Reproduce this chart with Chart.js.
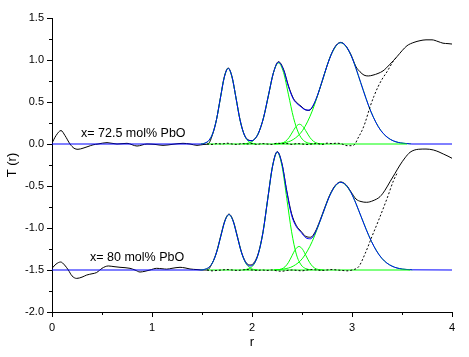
<!DOCTYPE html>
<html>
<head>
<meta charset="utf-8">
<script src="https://cdn.jsdelivr.net/npm/chart.js@4/dist/chart.umd.min.js"></script>
<style>
html,body{margin:0;padding:0;background:#fff;}
canvas{display:block;}
</style>
</head>
<body>
<canvas id="c" width="469" height="357"></canvas>
<script>
// ---------- x = 72.5 mol% PbO (baseline 0) ----------
const upDataR = [0,0.04,0.09,0.13,0.18,0.22,0.26,0.31,0.36,0.41,0.46,0.55,0.65,0.75,0.85,0.95,1.03,1.11,1.21,1.31,1.38,1.45,1.52,1.56,1.61,1.645,1.684,1.723,1.762,1.80,1.84,1.88,1.92,1.96,2.00,2.035,2.065,2.115,2.165,2.215,2.265,2.315,2.365,2.415,2.45,2.49,2.53,2.57,2.61,2.65,2.70,2.75,2.80,2.845,2.887,2.93,2.987,3.04,3.08,3.12,3.163,3.21,3.26,3.31,3.38,3.45,3.50,3.55,3.62,3.68,3.74,3.80,3.86,3.91,3.96,4.0];
const upDataT = [0.01,0.10,0.16,0.10,0.00,-0.05,-0.063,-0.05,-0.03,-0.01,0.00,0.016,0.00,0.008,-0.024,0.00,-0.005,-0.016,-0.003,0.008,0.0,-0.016,-0.005,0.0,0.13,0.29,0.55,0.80,0.905,0.80,0.55,0.29,0.12,0.05,0.04,0.07,0.13,0.31,0.58,0.85,0.98,0.89,0.69,0.54,0.49,0.45,0.41,0.40,0.45,0.56,0.74,0.93,1.09,1.18,1.21,1.18,1.07,0.92,0.86,0.82,0.81,0.82,0.84,0.87,0.95,1.04,1.11,1.17,1.21,1.23,1.24,1.24,1.22,1.20,1.195,1.19];
const upFitR = [0,1.50,1.53,1.57,1.61,1.645,1.684,1.723,1.762,1.80,1.84,1.88,1.92,1.96,2.00,2.035,2.065,2.115,2.165,2.215,2.265,2.315,2.365,2.415,2.45,2.49,2.53,2.57,2.61,2.65,2.70,2.75,2.80,2.845,2.887,2.93,2.987,3.04,3.087,3.14,3.187,3.24,3.287,3.34,3.387,3.44,3.487,3.55,3.60,4.0];
const upFitT = [0,0,0.011,0.044,0.135,0.292,0.546,0.794,0.900,0.799,0.546,0.287,0.118,0.045,0.038,0.071,0.131,0.313,0.585,0.852,0.974,0.882,0.681,0.531,0.481,0.443,0.408,0.403,0.457,0.564,0.744,0.930,1.086,1.177,1.206,1.178,1.064,0.900,0.731,0.542,0.392,0.254,0.163,0.093,0.053,0.026,0.013,0.005,0,0];
const upG1R = [1.489,1.528,1.567,1.606,1.645,1.684,1.723,1.762,1.801,1.840,1.879,1.918,1.957,1.996,2.035];
const upG1T = [0.002,0.010,0.040,0.122,0.292,0.546,0.794,0.900,0.794,0.546,0.292,0.122,0.040,0.010,0.002];
const upG2R = [1.915,1.965,2.015,2.065,2.115,2.165,2.215,2.265,2.315,2.365,2.415,2.465,2.515,2.565,2.615];
const upG2T = [0.002,0.011,0.042,0.131,0.313,0.585,0.852,0.965,0.852,0.585,0.313,0.131,0.042,0.011,0.002];
const upG3R = [2.23,2.265,2.30,2.335,2.37,2.405,2.44,2.475,2.51,2.545,2.58,2.615,2.65,2.685,2.72];
const upG3T = [0.0005,0.003,0.010,0.032,0.076,0.143,0.207,0.235,0.207,0.143,0.076,0.032,0.010,0.003,0.0005];
const upG4R = [2.222,2.317,2.412,2.507,2.602,2.697,2.792,2.887,2.987,3.087,3.187,3.287,3.387,3.487,3.587];
const upG4T = [0.003,0.013,0.053,0.163,0.392,0.731,1.064,1.206,1.064,0.731,0.392,0.163,0.053,0.013,0.003];
const upResR = [1.55,1.60,1.65,1.70,1.75,1.80,1.85,1.90,1.95,2.00,2.05,2.10,2.15,2.20,2.25,2.30,2.35,2.40,2.45,2.50,2.55,2.60,2.65,2.70,2.75,2.80,2.85,2.90,2.95,3.00,3.03,3.06,3.10,3.13,3.18,3.22,3.26,3.30,3.35,3.41,3.45];
const upResT = [0,-0.005,0.005,0,0.01,0,-0.005,0.005,0,0.005,-0.005,0.005,0,-0.005,0.01,0.005,0.005,-0.005,0.005,0,-0.005,0,0.005,-0.005,0.01,0.005,0.01,0,-0.02,-0.02,0.0,0.07,0.16,0.25,0.44,0.57,0.68,0.77,0.86,0.98,1.04];
const upBaseR = [1.55,3.55];
const upBaseT = [0,0];

// ---------- x = 80 mol% PbO (baseline -1.5) ----------
const loDataR = [0,0.04,0.087,0.125,0.163,0.20,0.247,0.30,0.347,0.40,0.447,0.50,0.563,0.62,0.68,0.78,0.83,0.88,0.93,0.98,1.047,1.10,1.147,1.20,1.28,1.33,1.38,1.45,1.51,1.55,1.606,1.647,1.688,1.729,1.77,1.811,1.852,1.893,1.934,1.975,2.016,2.063,2.111,2.158,2.206,2.253,2.30,2.348,2.396,2.443,2.491,2.538,2.586,2.63,2.68,2.73,2.78,2.835,2.887,2.94,2.99,3.04,3.09,3.147,3.21,3.28,3.33,3.38,3.43,3.48,3.53,3.58,3.663,3.74,3.813,3.87,3.913,3.96,4.0];
const loDataT = [-1.48,-1.43,-1.405,-1.44,-1.50,-1.57,-1.60,-1.585,-1.56,-1.545,-1.53,-1.48,-1.452,-1.46,-1.468,-1.48,-1.50,-1.524,-1.515,-1.50,-1.48,-1.485,-1.49,-1.48,-1.468,-1.475,-1.488,-1.495,-1.50,-1.50,-1.41,-1.28,-1.09,-0.91,-0.835,-0.91,-1.09,-1.28,-1.40,-1.44,-1.42,-1.30,-1.04,-0.645,-0.258,-0.09,-0.235,-0.56,-0.83,-0.97,-1.04,-1.10,-1.11,-1.05,-0.91,-0.75,-0.60,-0.49,-0.452,-0.485,-0.57,-0.655,-0.685,-0.694,-0.675,-0.627,-0.55,-0.449,-0.35,-0.25,-0.165,-0.099,-0.063,-0.06,-0.071,-0.095,-0.119,-0.145,-0.17];
const loFitR = [0,1.50,1.524,1.565,1.606,1.647,1.688,1.729,1.77,1.811,1.852,1.893,1.934,1.975,2.016,2.063,2.111,2.158,2.206,2.253,2.300,2.348,2.396,2.443,2.491,2.538,2.586,2.63,2.68,2.73,2.78,2.835,2.887,2.94,2.99,3.04,3.092,3.14,3.195,3.245,3.297,3.35,3.40,3.45,3.502,3.55,3.605,4.0];
const loFitT = [-1.5,-1.5,-1.493,-1.471,-1.411,-1.286,-1.100,-0.918,-0.84,-0.918,-1.100,-1.285,-1.406,-1.452,-1.432,-1.31,-1.045,-0.651,-0.264,-0.094,-0.24,-0.571,-0.848,-0.983,-1.052,-1.116,-1.128,-1.061,-0.92,-0.758,-0.609,-0.495,-0.456,-0.49,-0.579,-0.71,-0.867,-1.013,-1.161,-1.273,-1.359,-1.419,-1.454,-1.476,-1.489,-1.494,-1.498,-1.5];
const loG1R = [1.483,1.524,1.565,1.606,1.647,1.688,1.729,1.77,1.811,1.852,1.893,1.934,1.975,2.016,2.057];
const loG1T = [-1.4985,-1.493,-1.471,-1.411,-1.286,-1.100,-0.918,-0.84,-0.918,-1.100,-1.286,-1.411,-1.471,-1.493,-1.4985];
const loG2R = [1.921,1.968,2.016,2.063,2.111,2.158,2.206,2.253,2.300,2.348,2.396,2.443,2.491,2.538,2.586];
const loG2T = [-1.497,-1.484,-1.439,-1.311,-1.045,-0.651,-0.264,-0.10,-0.264,-0.651,-1.045,-1.311,-1.439,-1.484,-1.497];
const loG3R = [2.225,2.26,2.295,2.33,2.365,2.40,2.435,2.47,2.505,2.54,2.575,2.61,2.645,2.68,2.715];
const loG3T = [-1.4994,-1.497,-1.488,-1.462,-1.409,-1.330,-1.253,-1.22,-1.253,-1.330,-1.409,-1.462,-1.488,-1.497,-1.4994];
const loG4R = [2.222,2.317,2.412,2.507,2.602,2.697,2.792,2.887,2.990,3.092,3.195,3.297,3.40,3.502,3.605];
const loG4T = [-1.498,-1.4885,-1.454,-1.359,-1.161,-0.867,-0.579,-0.456,-0.579,-0.867,-1.161,-1.359,-1.454,-1.4885,-1.498];
const loResR = [1.55,1.60,1.65,1.70,1.75,1.80,1.85,1.90,1.95,2.00,2.05,2.10,2.15,2.20,2.25,2.30,2.35,2.40,2.45,2.50,2.55,2.60,2.65,2.70,2.75,2.80,2.85,2.90,2.95,3.00,3.067,3.133,3.20,3.267,3.35,3.417,3.45];
const loResT = [-1.5,-1.51,-1.505,-1.50,-1.495,-1.50,-1.505,-1.50,-1.495,-1.50,-1.505,-1.50,-1.505,-1.50,-1.51,-1.515,-1.505,-1.50,-1.505,-1.51,-1.50,-1.495,-1.50,-1.505,-1.50,-1.495,-1.50,-1.505,-1.51,-1.50,-1.46,-1.30,-1.10,-0.905,-0.65,-0.43,-0.35];
const loBaseR = [1.55,3.58];
const loBaseT = [-1.5,-1.5];

// ---------- axes / labels ----------
const xTicks = [0,1,2,3,4];
const yTicks = [1.5,1.0,0.5,0.0,-0.5,-1.0,-1.5,-2.0];
const xTitle = 'r';
const yTitle = 'T (r)';
const seriesLabels = [
  {text:'x= 72.5 mol% PbO', r:0.29, t:0.13},
  {text:'x= 80 mol% PbO', r:0.38, t:-1.357}
];

const BLACK='#000000', BLUE='#0000ff', GREEN='#00ff00';
function pts(R,T){ return R.map((r,i)=>({x:r,y:T[i]})); }
function ds(R,T,color,order,extra){
  return Object.assign({data:pts(R,T),borderColor:color,borderWidth:1,pointRadius:0,fill:false,
    cubicInterpolationMode:'monotone',order:order},extra||{});
}

const datasets = [
  ds(upResR,upResT,BLACK,0,{borderDash:[2,2]}),
  ds(loResR,loResT,BLACK,0,{borderDash:[2,2]}),
  ds(upBaseR,upBaseT,GREEN,1),
  ds(loBaseR,loBaseT,GREEN,1),
  ds(upFitR,upFitT,BLUE,2),
  ds(loFitR,loFitT,BLUE,2),
  ds(upG1R,upG1T,GREEN,3), ds(upG2R,upG2T,GREEN,3), ds(upG3R,upG3T,GREEN,3), ds(upG4R,upG4T,GREEN,3),
  ds(loG1R,loG1T,GREEN,3), ds(loG2R,loG2T,GREEN,3), ds(loG3R,loG3T,GREEN,3), ds(loG4R,loG4T,GREEN,3),
  ds(upDataR,upDataT,BLACK,4),
  ds(loDataR,loDataT,BLACK,4)
];

const FONT = '"Liberation Sans", Arial, sans-serif';

const extras = {
  id:'extras',
  afterDraw(chart){
    const ctx = chart.ctx, xs = chart.scales.x, ys = chart.scales.y;
    const ca = chart.chartArea;
    ctx.save();
    ctx.strokeStyle = BLACK; ctx.lineWidth = 1;
    // minor ticks
    for (let v=-2; v<=1.5001; v+=0.25){
      if (Math.abs(v*2-Math.round(v*2))<1e-6) continue;
      const y = Math.round(ys.getPixelForValue(v))+0.5;
      ctx.beginPath(); ctx.moveTo(ca.left-3, y); ctx.lineTo(ca.left, y); ctx.stroke();
    }
    for (let v=0.5; v<4; v+=1){
      const x = Math.round(xs.getPixelForValue(v))+0.5;
      ctx.beginPath(); ctx.moveTo(x, ca.bottom); ctx.lineTo(x, ca.bottom+3); ctx.stroke();
    }
    // series labels
    ctx.fillStyle = BLACK;
    ctx.font = '12.5px ' + FONT;
    ctx.textBaseline = 'middle'; ctx.textAlign = 'left';
    seriesLabels.forEach(l=>{
      ctx.fillText(l.text, xs.getPixelForValue(l.r), ys.getPixelForValue(l.t));
    });
    ctx.restore();
  }
};

new Chart(document.getElementById('c'), {
  type:'line',
  data:{datasets},
  options:{
    responsive:false, animation:false, devicePixelRatio:1,
    layout:{padding:{top:18,right:17,left:0,bottom:0}},
    plugins:{legend:{display:false}, tooltip:{enabled:false}},
    scales:{
      x:{
        type:'linear', min:0, max:4,
        afterFit(s){ s.height = 45; },
        afterBuildTicks(s){ s.ticks = xTicks.map(v=>({value:v})); },
        ticks:{ color:BLACK, font:{family:FONT,size:11}, padding:4, maxRotation:0,
          callback:(v)=>String(v) },
        grid:{ drawOnChartArea:false, drawTicks:true, tickLength:5, tickColor:BLACK, color:BLACK },
        border:{ display:true, color:BLACK, width:1 },
        title:{ display:true, text:xTitle, color:BLACK, font:{family:FONT,size:13}, padding:{top:0,bottom:7} }
      },
      y:{
        type:'linear', min:-2, max:1.5,
        afterFit(s){ s.width = 52; },
        afterBuildTicks(s){ s.ticks = yTicks.map(v=>({value:v})); },
        ticks:{ color:BLACK, font:{family:FONT,size:11}, padding:3,
          callback:(v)=>Number(v).toFixed(1) },
        grid:{ drawOnChartArea:false, drawTicks:true, tickLength:5, tickColor:BLACK, color:BLACK },
        border:{ display:true, color:BLACK, width:1 },
        title:{ display:true, text:yTitle, color:BLACK, font:{family:FONT,size:13}, padding:{top:5,bottom:0} }
      }
    }
  },
  plugins:[extras]
});
</script>
</body>
</html>
